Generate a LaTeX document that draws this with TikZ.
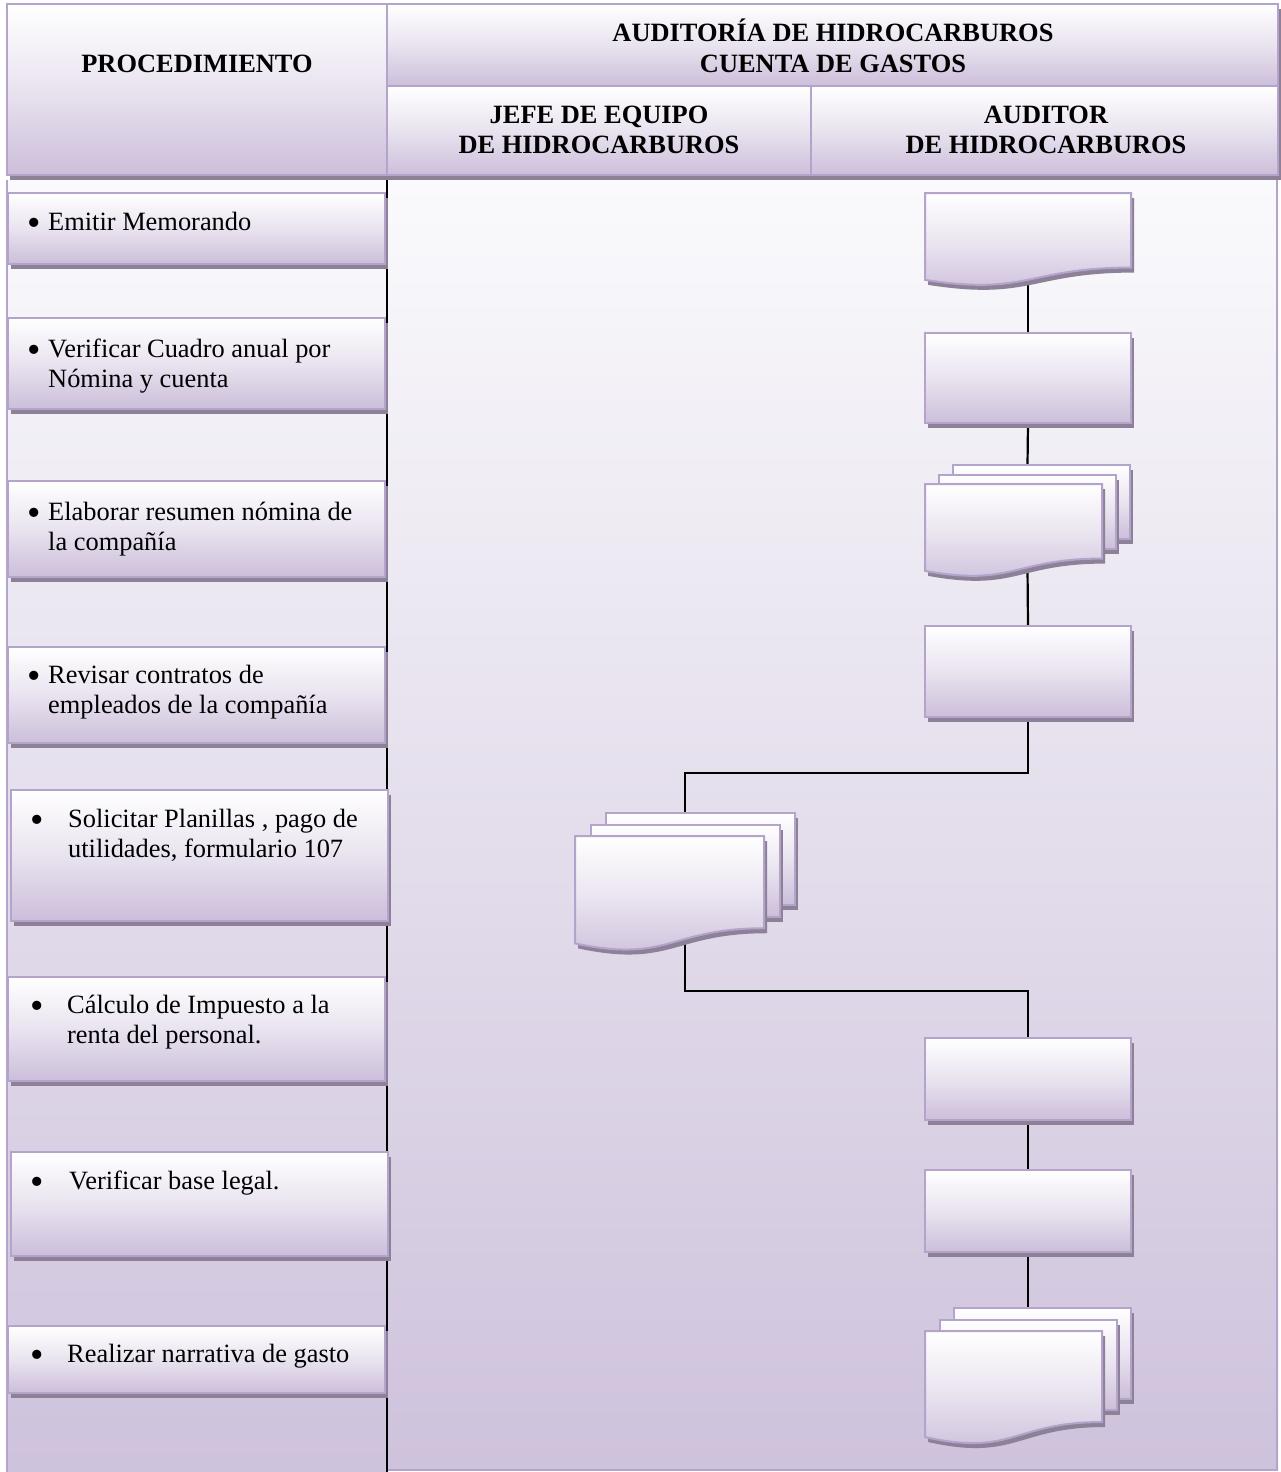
\documentclass[tikz,border=0pt]{standalone}
\usepackage{graphicx}
\usepackage{fontspec}
\setmainfont{Liberation Serif}
\usetikzlibrary{calc,shadows}

\definecolor{lav}{HTML}{CCBEDA}
\definecolor{lavmid}{HTML}{E9E3EF}
\definecolor{rim}{HTML}{B4A4CC}
\definecolor{shade}{HTML}{8C8197}
\definecolor{paneltop}{HTML}{FAFAFC}
\definecolor{panelbot}{HTML}{CEC2DC}

\pgfdeclarelayer{back}
\pgfdeclarelayer{wires}
\pgfsetlayers{back,wires,main}

\tikzset{
  card/.style={draw=rim, line width=2pt, top color=white, bottom color=lav, middle color=lavmid},
  cast/.style={drop shadow={shadow xshift=3pt, shadow yshift=-5pt, fill=shade, opacity=1}},
  hidden/.style={draw=none, inner sep=0pt, outer sep=0pt},
  wire/.style={draw=black, line width=2.2pt},
  steptext/.style={inner sep=0pt, anchor=base west, font={\fontsize{26.4}{30}\selectfont}},
  headtext/.style={inner sep=0pt, anchor=base, font={\fontsize{26.4}{30}\selectfont\bfseries}},
}

% one page with a wavy foot: style, x, y, w, h
\newcommand\pagedoc[5]{\path[#1] ({#2},{#3}) -- ({#2+#4},{#3}) -- ({#2+#4},{#3+0.802*#5})
  .. controls ({#2+0.5*#4},{#3+0.802*#5}) and ({#2+0.5*#4},{#3+1.1075*#5}) .. ({#2},{#3+0.934*#5}) -- cycle;}
% plain page: style, x, y, w, h
\newcommand\pagesheet[5]{\path[#1] ({#2},{#3}) rectangle ({#2+#4},{#3+#5});}

% document symbol: name, x, y, w, h
\newcommand\docnode[5]{%
  \pagedoc{fill=shade}{#2+3}{#3+5}{#4}{#5}
  \pagedoc{card}{#2}{#3}{#4}{#5}
  \node[hidden, anchor=north, minimum width={#4}, minimum height={0.933*#5}] (#1) at ({#2+0.5*#4},{#3}) {};}

% stacked documents: name, x, y, w, h, dx, dy (front page at x,y)
\newcommand\multinode[7]{%
  \pagesheet{fill=shade}{#2+2*#6+3}{#3-2*#7+5}{#4}{0.8*#5}
  \pagesheet{card}{#2+2*#6}{#3-2*#7}{#4}{0.8*#5}
  \pagesheet{fill=shade}{#2+#6+3}{#3-#7+5}{#4}{0.8*#5}
  \pagesheet{card}{#2+#6}{#3-#7}{#4}{0.8*#5}
  \pagedoc{fill=shade}{#2+3}{#3+5}{#4}{#5}
  \pagedoc{card}{#2}{#3}{#4}{#5}
  \node[hidden, anchor=north, minimum width={#4+2*#6}, minimum height={0.9*#5+2*#7}] (#1) at ({#2+#6+0.5*#4},{#3-2*#7}) {};}

% process box: name, x1, y1, x2, y2
\newcommand\cardnode[5]{%
  \node[card, cast, outer sep=0pt, anchor=north west, minimum width={#4-#2}, minimum height={#5-#3}] (#1) at ({#2},{#3}) {};}

% bulleted step text with hanging indent
\newcommand\stepdot{\raisebox{-5pt}{\scalebox{1.45}{\textbullet}}}
\newcommand\bul[2]{\parbox[t]{360pt}{\hangindent=#1pt\hangafter=1\makebox[#1pt][l]{\stepdot}#2}}

\begin{document}
\begin{tikzpicture}[x=1pt, y=-1pt]
\useasboundingbox (0,0) rectangle (1281,1472);

% lanes
\begin{pgfonlayer}{back}
  \fill[white] (0,0) rectangle (1281,1472);
  \fill[top color=paneltop, bottom color=panelbot] (7,180) rectangle (386,1472);
  \fill[top color=paneltop, bottom color=panelbot] (388,180) rectangle (1278,1470);
  \draw[rim, line width=1.5pt] (7,180) -- (7,1472);
  \draw[rim, line width=2pt] (1277,180) -- (1277,1470) -- (388,1470);
  \draw[black, line width=2pt] (387,178) -- (387,1472);
\end{pgfonlayer}

% header
\cardnode{hProc}{7}{4}{387}{175}
\cardnode{hAud}{387}{4}{1278}{86}
\cardnode{hJefe}{387}{86}{811}{175}
\cardnode{hAudr}{811}{86}{1278}{175}
\node[headtext] (tProc) at (197,72) {PROCEDIMIENTO};
\node[headtext] (tAud) at (833,42) {\parbox[t]{700pt}{\centering AUDITORÍA DE HIDROCARBUROS\\CUENTA DE GASTOS}};
\node[headtext] (tJefe) at (599,123) {\parbox[t]{420pt}{\centering JEFE DE EQUIPO\\DE HIDROCARBUROS}};
\node[headtext] (tAudr) at (1046,123) {\parbox[t]{460pt}{\centering AUDITOR\\DE HIDROCARBUROS}};

% procedure steps
\cardnode{p1}{8}{193}{385}{264}
\cardnode{p2}{8}{318}{385}{409}
\cardnode{p3}{8}{481}{385}{577}
\cardnode{p4}{8}{647}{385}{743}
\cardnode{p5}{11}{790}{388}{921}
\cardnode{p6}{8}{977}{385}{1081}
\cardnode{p7}{11}{1152}{388}{1256}
\cardnode{p8}{8}{1326}{385}{1393}
\node[steptext] (s1) at (27.5,230) {\bul{20.5}{Emitir Memorando}};
\node[steptext] (s2) at (27.5,357) {\bul{20.5}{Verificar Cuadro anual por\\Nómina y cuenta}};
\node[steptext] (s3) at (27.5,520) {\bul{20.5}{Elaborar resumen nómina de\\la compañía}};
\node[steptext] (s4) at (27.5,683) {\bul{20.5}{Revisar contratos de\\empleados de la compañía}};
\node[steptext] (s5) at (30.5,827) {\bul{37.5}{Solicitar Planillas , pago de\\utilidades, formulario 107}};
\node[steptext] (s6) at (30.5,1013) {\bul{36.5}{Cálculo de Impuesto a la\\renta del personal.}};
\node[steptext] (s7) at (30.5,1189) {\bul{38.5}{Verificar base legal.}};
\node[steptext] (s8) at (30.5,1362) {\bul{36.5}{Realizar narrativa de gasto}};

% flow symbols
\docnode{d1}{925}{193}{206}{93}
\cardnode{r2}{925}{333}{1131}{423}
\multinode{m3}{925}{484}{177}{93}{14}{9.5}
\cardnode{r4}{925}{626}{1131}{717}
\multinode{m5}{575}{836}{189}{115}{15.5}{11.5}
\cardnode{r6}{925}{1038}{1131}{1120}
\cardnode{r7}{925}{1170}{1131}{1252}
\multinode{m8}{925}{1331}{177}{113.5}{14.5}{11.5}

% connectors
\begin{pgfonlayer}{wires}
  \draw[wire] (d1.south) -- (r2.north);
  \draw[wire] (r2.south) -- (m3.north);
  \draw[wire] (m3.south) -- (r4.north);
  \draw[wire] (r4.south) |- ($(m5.north)+(0,-40)$) -- (m5.north);
  \draw[wire] (m5.south) |- ($(r6.north)+(0,-47)$) -- (r6.north);
  \draw[wire] (r6.south) -- (r7.north);
  \draw[wire] (r7.south) -- (m8.north);
\end{pgfonlayer}
\end{tikzpicture}
\end{document}
